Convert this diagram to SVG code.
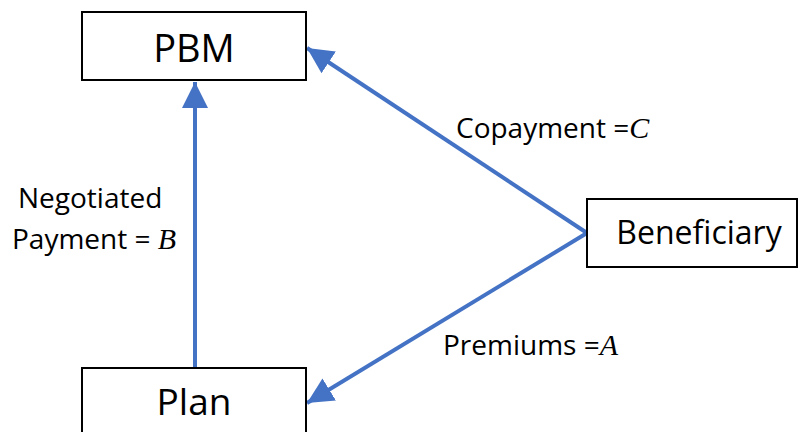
<svg xmlns="http://www.w3.org/2000/svg" width="798" height="432" viewBox="0 0 798 432">
<style>
.box{fill:#fff;stroke:#000;stroke-width:2}
.nt{font-family:"Open Sans","Noto Sans","Liberation Sans",sans-serif;fill:#000;text-anchor:middle}
.lb{font-family:"Open Sans","Noto Sans","Liberation Sans",sans-serif;font-size:28px;fill:#000}
.m{font-family:"Liberation Serif",serif;font-style:italic;font-size:30px}
.c{stroke:#4472C4;stroke-width:4;fill:none}
</style>
<defs>
<marker id="ah" markerUnits="userSpaceOnUse" markerWidth="28" markerHeight="28" viewBox="0 0 28 28" refX="26" refY="14" orient="auto">
<path d="M0,1 L26,14 L0,27 Z" fill="#4472C4"/>
</marker>
</defs>
<g id="connectors">
<line class="c" x1="195" y1="368" x2="195" y2="82" marker-end="url(#ah)"/>
<line class="c" x1="587" y1="233" x2="307" y2="48" marker-end="url(#ah)"/>
<polyline class="c" points="587,233 307,403" marker-end="url(#ah)"/>
</g>
<g id="pbm">
<rect class="box" x="82" y="12" width="224" height="68"/>
<text class="nt" x="194" y="62" font-size="38">PBM</text>
</g>
<g id="plan">
<rect class="box" x="82" y="368" width="224" height="80"/>
<text class="nt" x="194" y="415" font-size="37">Plan</text>
</g>
<g id="beneficiary">
<rect class="box" x="587" y="199" width="210" height="68"/>
<text class="nt" x="699" y="244" font-size="32">Beneficiary</text>
</g>
<g id="labels">
<text class="lb" x="18" y="208">Negotiated</text>
<text class="lb" x="12" y="249">Payment = <tspan class="m">B</tspan></text>
<text class="lb" x="456" y="138">Copayment =<tspan class="m">C</tspan></text>
<text class="lb" x="443" y="355">Premiums =<tspan class="m">A</tspan></text>
</g>
</svg>
